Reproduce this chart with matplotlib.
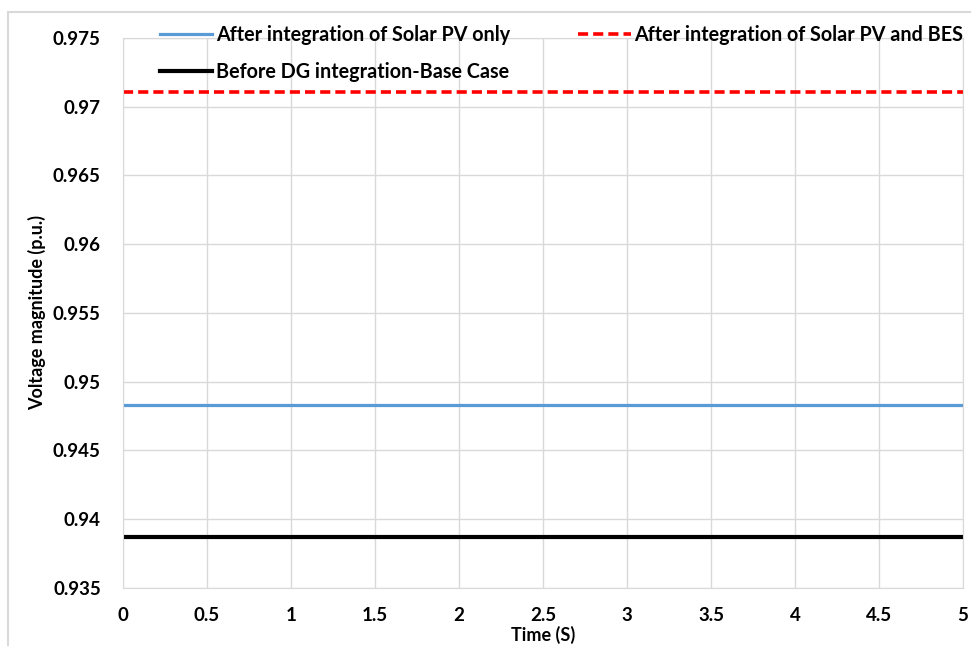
import matplotlib.pyplot as plt
from matplotlib.patches import Rectangle
from matplotlib.ticker import FuncFormatter, MultipleLocator

# time axis (s) and bus voltage (p.u.) for each case
time = [0, 1, 2, 3, 4, 5]
v_pv_only = [0.9483, 0.9483, 0.9483, 0.9483, 0.9483, 0.9483]
v_pv_bes = [0.9711, 0.9711, 0.9711, 0.9711, 0.9711, 0.9711]
v_base = [0.9387, 0.9387, 0.9387, 0.9387, 0.9387, 0.9387]

plt.rcParams['font.family'] = ['Lato', 'DejaVu Sans']
plt.rcParams['font.weight'] = 'bold'

fig = plt.figure(figsize=(9.71, 6.46), dpi=100)
ax = fig.add_axes([0.1267, 0.0898, 0.8651, 0.8514])

# outer chart border
fig.patches.append(Rectangle((0.008, -0.05), 1.2, 1.05 - 12 / 646, transform=fig.transFigure,
                             fill=False, edgecolor='#d9d9d9', lw=1.5))

l1, = ax.plot(time, v_pv_only, color='#5B9BD5', lw=2.3, label='After integration of Solar PV only')
l3, = ax.plot(time, v_base, color='black', lw=3, label='Before DG integration-Base Case')
l2, = ax.plot(time, v_pv_bes, color='#FF0000', lw=2.6, dashes=(2.8, 1.4),
              label='After integration of Solar PV and BES')

ax.set_xlim(0, 5)
ax.set_ylim(0.935, 0.975)
ax.xaxis.set_major_locator(MultipleLocator(0.5))
ax.yaxis.set_major_locator(MultipleLocator(0.005))
fmt = FuncFormatter(lambda v, p: '%g' % round(v, 4))
ax.xaxis.set_major_formatter(fmt)
ax.yaxis.set_major_formatter(fmt)
ax.tick_params(length=0, labelsize=13.5, pad=14)
ax.tick_params(axis='y', pad=16)
ax.grid(True, color='#d9d9d9', lw=1)
ax.set_axisbelow(True)
for s in ax.spines.values():
    s.set_color('#d9d9d9')

ax.set_xlabel('Time (S)', fontsize=13, fontweight='bold', labelpad=1)
ax.set_ylabel('Voltage magnitude (p.u.)', fontsize=13, fontweight='bold', labelpad=5)

leg = ax.legend(handles=[l1, l3, l2], ncol=2, frameon=False, loc='upper left',
                bbox_to_anchor=(0.0275, 1.049), fontsize=14.2, handlelength=2.65,
                handletextpad=0.2, columnspacing=3.45, labelspacing=0.85,
                borderaxespad=0.3)

plt.savefig('out.png', dpi=100)
